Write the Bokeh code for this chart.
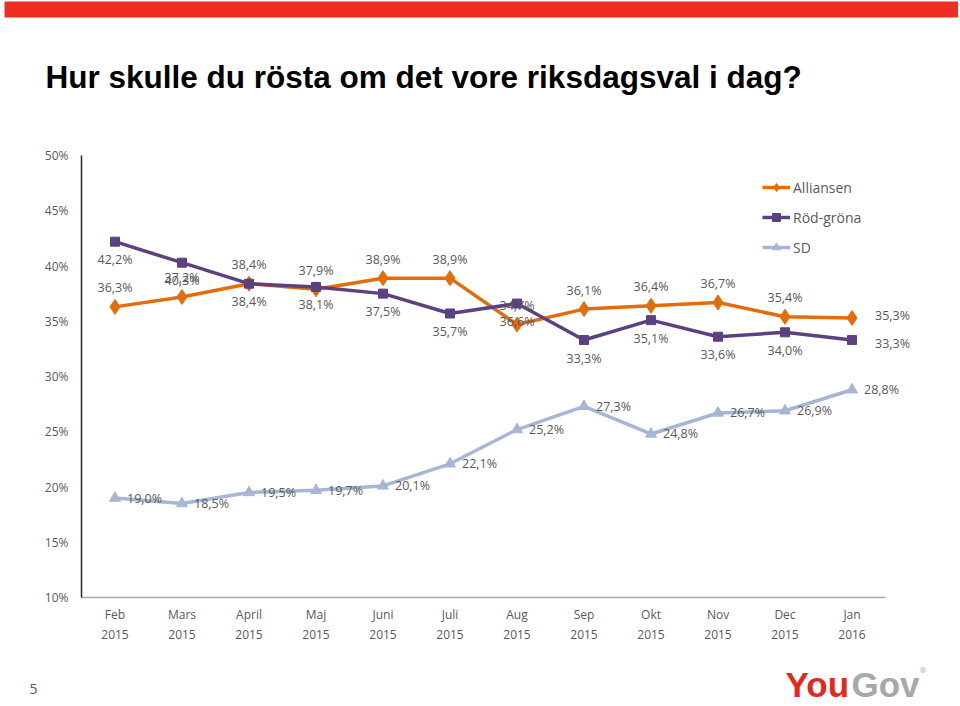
from bokeh.plotting import figure
from bokeh.layouts import column, row
from bokeh.models import (ColumnDataSource, LabelSet, Legend, LegendItem,
                          FixedTicker, Range1d)
from bokeh.core.properties import value
from bokeh.embed import file_html
from bokeh.resources import INLINE

months = ["Feb\n2015", "Mars\n2015", "April\n2015", "Maj\n2015", "Juni\n2015", "Juli\n2015",
          "Aug\n2015", "Sep\n2015", "Okt\n2015", "Nov\n2015", "Dec\n2015", "Jan\n2016"]
alliansen = [36.3, 37.2, 38.4, 37.9, 38.9, 38.9, 34.7, 36.1, 36.4, 36.7, 35.4, 35.3]
rodgrona = [42.2, 40.3, 38.4, 38.1, 37.5, 35.7, 36.6, 33.3, 35.1, 33.6, 34.0, 33.3]
sd = [19.0, 18.5, 19.5, 19.7, 20.1, 22.1, 25.2, 27.3, 24.8, 26.7, 26.9, 28.8]
y_ticks = [10, 15, 20, 25, 30, 35, 40, 45, 50]
title_text = "Hur skulle du rösta om det vore riksdagsval i dag?"
page_no = "5"

ORANGE = "#E46C0A"
PURPLE = "#5B4180"
SDC = "#A6B6D4"
GRAY = "#595959"
FONT = "Open Sans"
TFONT = "Liberation Sans"

W = 958
H_HEAD, H_MAIN, H_FOOT = 140, 515, 49


def blank(h):
    f = figure(width=W, height=h, output_backend="svg", toolbar_location=None,
               x_range=Range1d(0, W), y_range=Range1d(h, 0),
               x_axis_type=None, y_axis_type=None, min_border=0,
               outline_line_color=None)
    f.grid.visible = False
    return f


# ---------- header ----------
head = blank(H_HEAD)
head.quad(left=[4], right=[W], top=[1], bottom=[17], fill_color="#EE2E24", line_color=None)
head.text(x=[45], y=[76], text=[title_text], text_font=value(TFONT),
          text_font_style="bold", text_font_size="31.5px", text_color="black",
          text_baseline="alphabetic")

# ---------- main chart ----------
FL, FT, FR, FB = 81, 15, 10, 58
p = figure(width=W, height=H_MAIN, output_backend="svg", toolbar_location=None,
           x_range=Range1d(-0.5, 12.44), y_range=Range1d(10, 50),
           min_border_left=FL, min_border_top=FT, min_border_right=FR,
           min_border_bottom=FB, outline_line_color=None)
p.grid.visible = False

xs = list(range(len(months)))
n = len(xs)
fmt = lambda v: f"{v:.1f}%".replace(".", ",")

# label offsets (last point's labels sit to the right in the reference)
a_dx = [0] * (n - 1) + [23]
a_dy = [19] * (n - 1) + [2]
r_dx = [0] * (n - 1) + [23]
r_dy = [-18] * (n - 1) + [-3]

src = ColumnDataSource(dict(
    x=xs, a=alliansen, r=rodgrona, s=sd,
    al=[fmt(v) for v in alliansen], rl=[fmt(v) for v in rodgrona], sl=[fmt(v) for v in sd],
    a_dx=a_dx, a_dy=a_dy, r_dx=r_dx, r_dy=r_dy,
    a_al=["center"] * (n - 1) + ["left"], r_al=["center"] * (n - 1) + ["left"]))

la = p.line("x", "a", source=src, line_color=ORANGE, line_width=3.5)
ma = p.scatter("x", "a", source=src, marker="diamond", size=15, color=ORANGE)
lr = p.line("x", "r", source=src, line_color=PURPLE, line_width=3.5)
mr = p.scatter("x", "r", source=src, marker="square", size=9, color=PURPLE)
ls = p.line("x", "s", source=src, line_color=SDC, line_width=3.5)
ms = p.scatter("x", "s", source=src, marker="triangle", size=11, color=SDC)

p.yaxis.ticker = FixedTicker(ticks=y_ticks)
p.yaxis.major_label_overrides = {t: f"{t}%" for t in y_ticks}
p.xaxis.ticker = FixedTicker(ticks=xs)
p.xaxis.major_label_overrides = {i: m for i, m in enumerate(months)}
p.xaxis.bounds = (-0.5, 11.5)
for ax in (p.xaxis, p.yaxis):
    ax.major_tick_line_color = None
    ax.minor_tick_line_color = None
    ax.major_label_text_font = FONT
    ax.major_label_text_font_size = "12px"
    ax.major_label_text_color = GRAY
p.yaxis.axis_line_color = "#262626"
p.yaxis.axis_line_width = 1.5
p.yaxis.major_label_standoff = 7
p.xaxis.axis_line_color = "#A6A6A6"
p.xaxis.axis_line_width = 1.5
p.xaxis.major_label_standoff = 2

lab_style = dict(source=src, text_baseline="middle", text_font=value(FONT),
                 text_font_size="12.5px", text_color=GRAY)
p.add_layout(LabelSet(x="x", y="a", text="al", text_align="a_al",
                      x_offset="a_dx", y_offset="a_dy", **lab_style))
p.add_layout(LabelSet(x="x", y="r", text="rl", text_align="r_al",
                      x_offset="r_dx", y_offset="r_dy", **lab_style))
p.add_layout(LabelSet(x="x", y="s", text="sl", text_align="left", x_offset=12, **lab_style))

legend = Legend(items=[
    LegendItem(label="Alliansen", renderers=[la, ma]),
    LegendItem(label="Röd-gröna", renderers=[lr, mr]),
    LegendItem(label="SD", renderers=[ls, ms]),
], location=(681, 340), orientation="vertical", glyph_width=28, glyph_height=20,
    spacing=10, padding=0, margin=0, label_standoff=3, border_line_color=None,
    background_fill_alpha=0, label_text_font=FONT, label_text_font_size="14px",
    label_text_color=GRAY)
p.add_layout(legend, "center")

# ---------- footer ----------
foot = blank(H_FOOT)
foot.text(x=[33], y=[33], text=[page_no], text_font=value(FONT), text_font_size="14px",
          text_color=GRAY, text_align="center", text_baseline="middle")
foot.text(x=[785], y=[29], text=["You"], text_font=value(TFONT), text_font_style="bold",
          text_font_size="35px", text_color="#E3281E", text_baseline="alphabetic")
foot.text(x=[851], y=[29], text=["Gov"], text_font=value(TFONT), text_font_style="bold",
          text_font_size="35px", text_color="#A8A8A8", text_baseline="alphabetic")
foot.text(x=[919], y=[14], text=["®"], text_font=value(FONT), text_font_size="8px",
          text_color="#A8A8A8", text_baseline="alphabetic")

layout = column(row(head), row(p), row(foot), spacing=0)
open("out.html", "w").write(file_html(layout, INLINE))
